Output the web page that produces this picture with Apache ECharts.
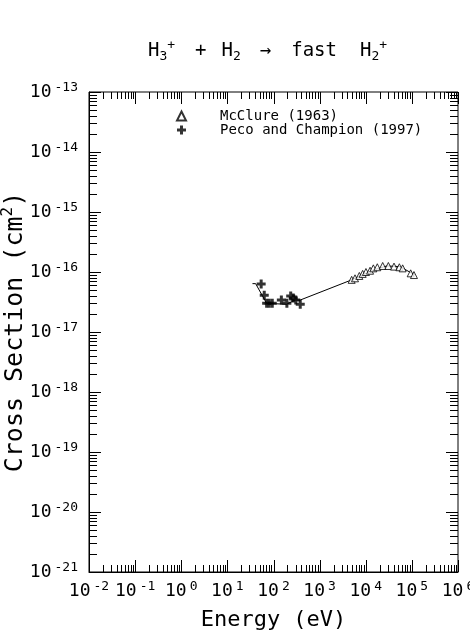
<!DOCTYPE html>
<html><head><meta charset="utf-8">
<script src="https://cdn.jsdelivr.net/npm/echarts@6/dist/echarts.min.js"></script>
<style>html,body{margin:0;padding:0;background:#fff}#c{width:470px;height:634px}</style>
</head><body><div id="c"></div>
<script>
const FONT = 'DejaVu Sans Mono';
// McClure (1963)
const mcclureE = [4950, 5850, 7250, 8570, 10100, 12400, 14600, 17800, 23300, 30900, 41000, 53500, 63100, 94200, 111000];
const mcclureS = [7.4e-17, 7.85e-17, 8.6e-17, 9.3e-17, 1.0e-16, 1.05e-16, 1.15e-16, 1.2e-16, 1.26e-16, 1.26e-16, 1.23e-16, 1.2e-16, 1.15e-16, 9.5e-17, 8.9e-17];
// Peco and Champion (1997)
const pecoE = [54, 63, 71, 81, 94, 148, 195, 236, 268, 304, 380];
const pecoS = [6.3e-17, 4.1e-17, 3.0e-17, 3.0e-17, 3.0e-17, 3.4e-17, 3.0e-17, 4.0e-17, 3.7e-17, 3.4e-17, 2.9e-17];
// recommended curve
const fitE = [35, 41, 71, 193, 292, 376, 4550, 14600, 28500, 55300, 117000];
const fitS = [6.4e-17, 6.4e-17, 3.0e-17, 2.9e-17, 3.4e-17, 3.4e-17, 7.2e-17, 1.08e-16, 1.26e-16, 1.23e-16, 8.9e-17];
// axis decades (tick label exponents)
const xDecades = [-2, -1, 0, 1, 2, 3, 4, 5, 6];
const yDecades = [-21, -20, -19, -18, -17, -16, -15, -14, -13];

const xMin = Math.pow(10, xDecades[0]), xMax = Math.pow(10, xDecades[xDecades.length - 1]);
const yMin = Math.pow(10, yDecades[0]), yMax = Math.pow(10, yDecades[yDecades.length - 1]);

// tick items: [x, y, axis(0=x,1=y), major, exponent]
const tickData = [];
xDecades.forEach((d, i) => {
  tickData.push([Math.pow(10, d), yMin, 0, 1, d]);
  if (i < xDecades.length - 1) for (let m = 2; m <= 9; m++) tickData.push([m * Math.pow(10, d), yMin, 0, 0, 0]);
});
yDecades.forEach((d, i) => {
  tickData.push([xMin, Math.pow(10, d), 1, 1, d]);
  if (i < yDecades.length - 1) for (let m = 2; m <= 9; m++) tickData.push([xMin, m * Math.pow(10, d), 1, 0, 0]);
});

const zip = (a, b) => a.map((v, i) => [v, b[i]]);
const expLabel = e => '{b|10}{e|' + e + '}';
const labRich = {
  b: { fontFamily: FONT, fontSize: 18, color: '#000', fill: '#000', lineHeight: 22 },
  e: { fontFamily: FONT, fontSize: 13, color: '#000', fill: '#000', lineHeight: 13, verticalAlign: 'top', padding: [0, 0, 0, 3] }
};
const crossPath = 'path://M3,0h3v3h3v3h-3v3h-3v-3h-3v-3h3z';
const T = (s) => Object.assign({ fontFamily: FONT, fontWeight: 'normal', color: '#000' }, s);

const chart = echarts.init(document.getElementById('c'), null, { renderer: 'canvas' });
chart.setOption({
  backgroundColor: '#fff',
  animation: false,
  title: {
    left: 143, top: 34,
    text: '{n|H}{sb|3}{sp|+}{p1|+}{n|H}{sb|2}{ar|→}{fa|fast}{h2|H}{sb|2}{sp|+}',
    textStyle: {
      fontWeight: 'normal',
      rich: {
        n: T({ fontSize: 19, lineHeight: 24 }),
        p1: T({ fontSize: 19, lineHeight: 24, padding: [0, 15, 0, 20] }),
        ar: T({ fontSize: 19, lineHeight: 24, padding: [0, 0, 0, 19] }),
        fa: T({ fontSize: 19, lineHeight: 24, padding: [0, 0, 0, 20] }),
        h2: T({ fontSize: 19, lineHeight: 24, padding: [0, 0, 0, 23] }),
        sb: T({ fontSize: 13, lineHeight: 13, verticalAlign: 'bottom' }),
        sp: T({ fontSize: 13, lineHeight: 13, verticalAlign: 'top' })
      }
    }
  },
  legend: {
    left: 171, top: 104, orient: 'vertical',
    itemWidth: 9, itemHeight: 9, itemGap: 0,
    data: ['McClure (1963)', 'Peco and Champion (1997)'],
    formatter: '{t|{name}}',
    textStyle: { rich: { t: T({ fontSize: 14, lineHeight: 14, padding: [0, 0, 0, 29] }) } }
  },
  grid: { left: 89, top: 92, right: 12, bottom: 62, show: true, borderColor: '#000', borderWidth: 1, outerBoundsMode: 'none' },
  xAxis: {
    type: 'log', logBase: 10, min: xMin, max: xMax,
    name: 'Energy (eV)', nameLocation: 'middle', nameGap: 37,
    nameTextStyle: T({ fontSize: 22 }),
    axisLine: { show: true, lineStyle: { color: '#000', width: 1 } },
    axisTick: { show: false }, splitLine: { show: false },
    axisLabel: { formatter: v => expLabel(Math.round(Math.log10(v))), rich: labRich, margin: 8, showMinLabel: true, showMaxLabel: true }
  },
  yAxis: {
    type: 'log', logBase: 10, min: yMin, max: yMax,
    name: '{t|Cross Section (cm}{s|2}{t|)}', nameLocation: 'middle', nameGap: 59, nameMoveOverlap: false,
    nameTextStyle: { rich: {
      t: T({ fontSize: 25, lineHeight: 30 }),
      s: T({ fontSize: 16, lineHeight: 16, verticalAlign: 'top' })
    } },
    axisLine: { show: true, lineStyle: { color: '#000', width: 1 } },
    axisTick: { show: false }, splitLine: { show: false },
    axisLabel: { show: false }
  },
  series: [
    {
      type: 'custom', silent: true, clip: false, z: 5,
      data: tickData,
      encode: { x: 0, y: 1 },
      renderItem: function (params, api) {
        const cs = params.coordSys;
        const isY = api.value(2), major = api.value(3);
        const st = { stroke: '#000', lineWidth: 1 };
        if (!isY) {
          const len = major ? 12 : 7;
          const x = Math.round(api.coord([api.value(0), api.value(1)])[0]) + 0.5;
          return { type: 'group', children: [
            { type: 'line', shape: { x1: x, y1: cs.y + cs.height, x2: x, y2: cs.y + cs.height - len }, style: st },
            { type: 'line', shape: { x1: x, y1: cs.y, x2: x, y2: cs.y + len }, style: st }
          ] };
        } else {
          const len = major ? 12 : 8;
          const y = Math.round(api.coord([api.value(0), api.value(1)])[1]) + 0.5;
          const children = [
            { type: 'line', shape: { x1: cs.x, y1: y, x2: cs.x + len, y2: y }, style: st },
            { type: 'line', shape: { x1: cs.x + cs.width, y1: y, x2: cs.x + cs.width - len, y2: y }, style: st }
          ];
          if (major) children.push({
            type: 'text', x: cs.x - 11, y: y,
            style: { text: expLabel(api.value(4)), rich: labRich, align: 'right', verticalAlign: 'middle', fill: '#000' }
          });
          return { type: 'group', children: children };
        }
      }
    },
    {
      name: 'fit', type: 'line', data: zip(fitE, fitS), symbol: 'none',
      lineStyle: { color: '#000', width: 1 }, z: 3
    },
    {
      name: 'McClure (1963)', type: 'scatter', data: zip(mcclureE, mcclureS),
      symbol: 'triangle', symbolSize: 7,
      itemStyle: { color: '#fff', borderColor: '#000', borderWidth: 1 }, z: 4
    },
    {
      name: 'Peco and Champion (1997)', type: 'scatter', data: zip(pecoE, pecoS),
      symbol: crossPath, symbolSize: 9,
      itemStyle: { color: '#000' }, z: 4
    }
  ]
});
</script>
</body></html>
